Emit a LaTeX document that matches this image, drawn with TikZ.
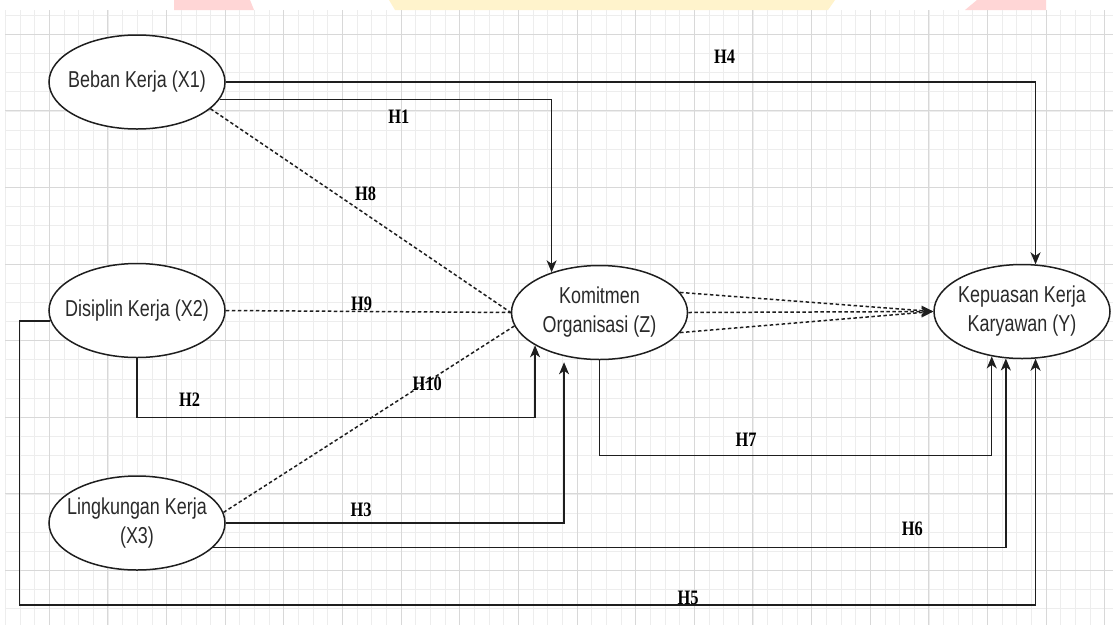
\documentclass[tikz,border=0pt]{standalone}
\usepackage{fontspec}
\usepackage{tikz}
\usetikzlibrary{arrows.meta,positioning,shapes.geometric}
\newfontfamily\varfont[FakeStretch=0.78]{Liberation Sans}
\newfontfamily\hypfont[FakeStretch=0.8]{Liberation Serif}
\definecolor{linegray}{HTML}{1E1E1E}
\definecolor{textgray}{HTML}{2A2A2A}
\definecolor{gridmajor}{HTML}{D8D8D8}
\definecolor{gridminor}{HTML}{EDEDED}
\definecolor{markpink}{HTML}{FFD6D6}
\definecolor{markyellow}{HTML}{FFF3CC}

\begin{document}
\begin{tikzpicture}[
 x=1pt,y=-1pt,
 var/.style={ellipse,draw=linegray,line width=1.5pt,fill=white,align=center,minimum width=176pt,minimum height=94pt,inner xsep=-12pt,inner ysep=0pt,text=textgray,font=\varfont\fontsize{23}{29}\selectfont},
 arr/.style={-{Stealth[length=12pt,width=10pt,inset=3.5pt]},line width=1.5pt,linegray},
 dsh/.style={line width=1.5pt,linegray,dash pattern=on 3.5pt off 2.5pt},
 lbl/.style={inner sep=0pt,text=black,font=\hypfont\bfseries\fontsize{20.5}{24}\selectfont},
 minorgrid/.style={gridminor,line width=0.8pt},
 majorgrid/.style={gridmajor,line width=1pt}
]
\useasboundingbox (0,0) rectangle (1113,625);
\fill[white] (0,0) rectangle (1113,625);
% watermark remains at the top edge
\fill[markpink] (174,0) -- (250,0) -- (254,10) -- (174,10) -- cycle;
\fill[markyellow] (389,0) -- (835,0) -- (828,10) -- (395,10) -- cycle;
\fill[markpink] (977,0) -- (1046,0) -- (1046,10) -- (965,10) -- cycle;
% grid
\foreach \i in {-3,...,72} \draw[minorgrid] ({49.3+14.66*\i},10) -- ({49.3+14.66*\i},625);
\foreach \j in {-1,...,30} \draw[minorgrid] (5,{34.3+19.15*\j}) -- (1113,{34.3+19.15*\j});
\foreach \k in {0,...,18} \draw[majorgrid] ({49.3+58.64*\k},10) -- ({49.3+58.64*\k},625);
\foreach \m in {0,...,7} \draw[majorgrid] (5,{34.3+76.6*\m}) -- (1113,{34.3+76.6*\m});

\node[var] (X1) at (137,82) {Beban Kerja (X1)};
\node[var,below=133pt of X1] (X2) {Disiplin Kerja (X2)};
\node[var,below=117pt of X2] (X3) {Lingkungan Kerja\\(X3)};
\node[var,right=285pt of X2,yshift=-2pt] (Z) {Komitmen\\Organisasi (Z)};
\node[var,right=245pt of Z,yshift=1pt] (Y) {Kepuasan Kerja\\Karyawan (Y)};
\coordinate (c5) at (0,605);

\draw[arr] (X1.east) -| node[lbl,pos=0.308,above=18pt] (h4) {H4} (Y.74);
\draw[arr] (X1.-12) -| node[lbl,pos=0.27,below=10pt] (h1) {H1} (Z.140);
\draw[dsh] (X1.-20) -- node[lbl,pos=0.47,above right=4pt] (h8) {H8} (Z.west);
\draw[dsh] (X2.east) -- node[lbl,pos=0.477,above=0pt] (h9) {H9} (Z.west);
\draw[dsh] (X3.7) -- node[lbl,pos=0.648,above right=0pt] (h10) {H10} (Z.189);
\draw[arr] (X2.south) -- ++(0,59) -| node[lbl,pos=0.066,above=10pt] (h2) {H2} (Z.-153);
\draw[arr,shorten >=6pt] (X3.east) -| node[lbl,pos=0.2,above=6pt] (h3) {H3} (Z.-129);
\draw[arr] (X3.-18) -| node[lbl,pos=0.441,above=11pt] (h6) {H6} (Y.-109);
\draw[arr] (Z.south) -- ++(0,95) -| node[lbl,pos=0.187,above=8pt] (h7) {H7} (Y.-124);
\draw[arr] (X2.187) -- ++(-31,0) |- node[lbl,pos=0.829,above=0pt] (h5) {H5} (Y.-74 |- c5) -- (Y.-74);
\draw[arr,dsh] (Z.14) -- (Y.west);
\draw[arr,dsh] (Z.east) -- (Y.west);
\draw[arr,dsh] (Z.-14) -- (Y.west);
\end{tikzpicture}
\end{document}
